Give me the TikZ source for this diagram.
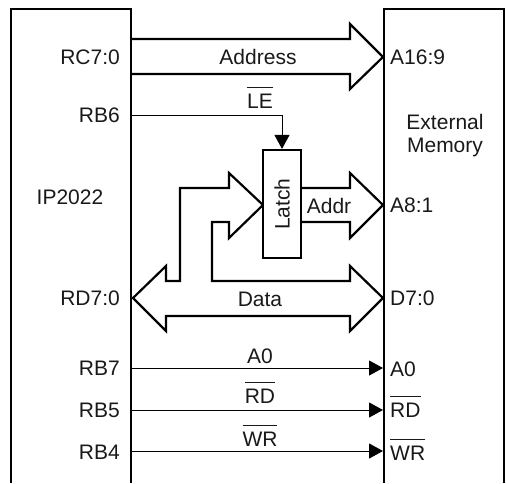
\documentclass[tikz,border=0pt]{standalone}
\usepackage{fontspec}
\setmainfont{Liberation Sans}
\usetikzlibrary{arrows.meta}
\newcommand{\ovl}[1]{\setbox0\hbox{#1}\rlap{\raisebox{0.93em}{\rule{\wd0}{0.07em}}}\box0}
\tikzset{
  x=1pt,y=-1pt,
  every node/.style={font=\fontsize{21}{25}\selectfont,inner sep=0pt,text=black!90},
  chip/.style={draw=black,line width=2.2pt,line cap=butt},
  bus/.style={draw=black,line width=2.2pt,line join=miter,miter limit=10},
  sig/.style={draw=black,line width=1pt,-{Triangle[length=14pt,width=15pt]}},
  lblr/.style={anchor=east},
  lbll/.style={anchor=west},
  ovlabel/.style={anchor=base},
  ovlabell/.style={anchor=base west},
  latchbox/.style={draw=black,line width=2.2pt,minimum width=38pt,minimum height=108pt,fill=white}
}
\begin{document}
\begin{tikzpicture}
\useasboundingbox (0,0) rectangle (506,483);
\draw[chip] (11,483) -- (11,9) -- (131,9) -- (131,483);
\draw[chip] (504,483) -- (504,9) -- (384,9) -- (384,483);
% bus arrows
\draw[bus] (131,39) -- (350,39) -- (350,24) -- (383,57) -- (350,89) -- (350,74) -- (131,74);
\draw[bus] (301,188) -- (350,188) -- (350,173) -- (383,205) -- (350,238) -- (350,222) -- (301,222);
\draw[bus] (263,205) -- (229,173) -- (229,188) -- (180,188) -- (180,281) -- (166,281) -- (166,266)
  -- (133,298) -- (166,331) -- (166,316) -- (350,316) -- (350,331) -- (383,298) -- (350,266)
  -- (350,281) -- (212,281) -- (212,222) -- (229,222) -- (229,238) -- cycle;
\node[latchbox] (latch) at (282,204) {\rotatebox{90}{Latch}};
% signals
\coordinate (le) at (132,115);
\coordinate (a0l) at (132,368);
\coordinate (a0r) at (383,368);
\coordinate (rdl) at (132,410);
\coordinate (rdr) at (383,410);
\coordinate (wrl) at (132,451);
\coordinate (wrr) at (383,451);
\draw[sig] (le) -| (latch.north);
\draw[sig] (a0l) -- (a0r);
\draw[sig] (rdl) -- (rdr);
\draw[sig] (wrl) -- (wrr);
% left labels
\node[lblr] (rc) at (120,57) {RC7:0};
\node[lblr] (rb6) at (120,115) {RB6};
\node (ip) at (70,197) {IP2022};
\node[lblr] (rd) at (120,298) {RD7:0};
\node[lblr] (rb7) at (120,368) {RB7};
\node[lblr] (rb5) at (120,410) {RB5};
\node[lblr] (rb4) at (120,452) {RB4};
% right labels
\node[lbll] (a16) at (390,57) {A16:9};
\node (ext) at (445,122) {External};
\node (mem) at (445,147) {Memory};
\node[lbll] (a8) at (390,205) {A8:1};
\node[lbll] (d7) at (390,298) {D7:0};
\node[lbll] (a0b) at (390,369) {A0};
\node[ovlabell] (rdb) at (390,417) {\ovl{RD}};
\node[ovlabell] (wrb) at (390,460) {\ovl{WR}};
% centre labels
\node (addr) at (258,57) {Address};
\node[ovlabel] (lel) at (260,108) {\ovl{LE}};
\node (addr2) at (329,206) {Addr};
\node (data) at (260,299) {Data};
\node (a0c) at (260,356) {A0};
\node[ovlabel] (rdc) at (260,403) {\ovl{RD}};
\node[ovlabel] (wrc) at (260,446) {\ovl{WR}};
\end{tikzpicture}
\end{document}
